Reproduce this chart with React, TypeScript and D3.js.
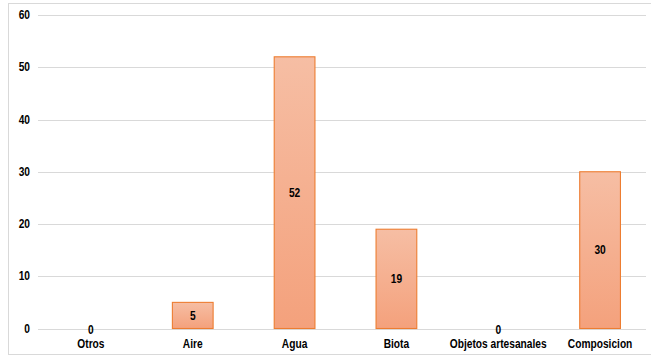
import React from "react";
import * as d3 from "d3";

const categories = ["Otros", "Aire", "Agua", "Biota", "Objetos artesanales", "Composicion"];
const values = [0, 5, 52, 19, 0, 30];
const yTicks = [0, 10, 20, 30, 40, 50, 60];

const W = 651;
const H = 358;
const FONT = "'Liberation Sans', Arial, sans-serif";
const SX = 0.85;

function NText({ x, y, anchor, children }: { x: number; y: number; anchor: string; children: React.ReactNode }) {
  return (
    <text
      transform={`translate(${x},${y}) scale(${SX},1)`}
      dy="0.35em"
      textAnchor={anchor}
      fontFamily={FONT}
      fontWeight="bold"
      fontSize={12}
      fill="#000"
    >
      {children}
    </text>
  );
}

export default function App() {
  const x = d3.scaleBand<string>().domain(categories).range([40, 651]).paddingInner(0.6).paddingOuter(0.3);
  const y = d3.scaleLinear().domain([0, 60]).range([328.5, 15]);

  return (
    <svg width={W} height={H} style={{ position: "absolute", left: 0, top: 0, background: "#fff" }}>
      <defs>
        <linearGradient id="barGrad" x1="0" y1="0" x2="0" y2="1">
          <stop offset="0%" stopColor="#f6bea4" />
          <stop offset="100%" stopColor="#f4a17c" />
        </linearGradient>
      </defs>
      <rect x={8.5} y={3.5} width={W} height={351} fill="#fff" stroke="#d9d9d9" strokeWidth={1} />
      {yTicks.map((t) => (
        <g key={t}>
          <line x1={38} x2={646} y1={Math.round(y(t)) + 0.5} y2={Math.round(y(t)) + 0.5} stroke="#d9d9d9" strokeWidth={1.2} />
          <NText x={30} y={y(t)} anchor="end">
            {t}
          </NText>
        </g>
      ))}
      {categories.map((c, i) => {
        const v = values[i];
        const bx = x(c)!;
        const bw = x.bandwidth();
        const top = y(v);
        const h = y(0) - top;
        return (
          <g key={c}>
            {v > 0 && (
              <rect x={bx} y={top} width={bw} height={h} fill="url(#barGrad)" stroke="#ed7d31" strokeWidth={1.1} />
            )}
            <NText x={bx + bw / 2} y={v > 0 ? top + h / 2 : y(0) + 1} anchor="middle">
              {v}
            </NText>
            <NText x={bx + bw / 2} y={344} anchor="middle">
              {c}
            </NText>
          </g>
        );
      })}
    </svg>
  );
}
